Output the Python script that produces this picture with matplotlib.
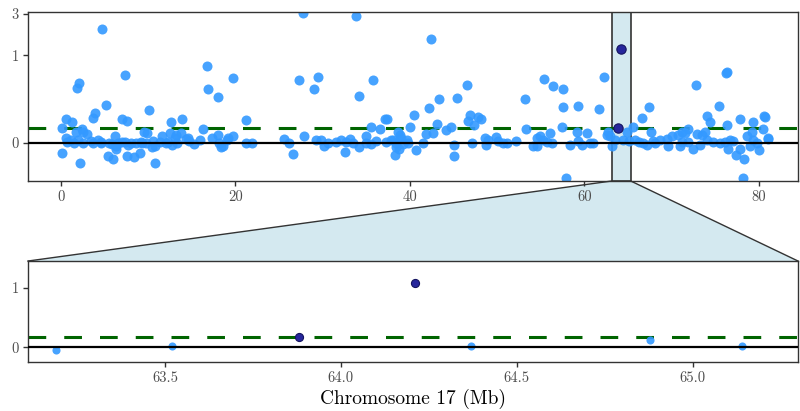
import numpy as np
import matplotlib.pyplot as plt
from matplotlib.patches import Polygon
from matplotlib.lines import Line2D

plt.rcParams['font.family'] = 'cmr10'
plt.rcParams['axes.formatter.use_mathtext'] = True
plt.rcParams['mathtext.fontset'] = 'cm'

# whole chromosome, positions in Mb and scores
pos = [4.74, 7.35, 2.07, 1.87, 5.20, 3.87, 3.67, 0.61, 1.26, 7.04, 7.61, 0.08, 2.38, 1.69, 2.99,
       6.20, 0.54, 0.72, 1.49, 2.53, 3.67, 4.28, 4.56, 5.51, 5.89, 6.28, 6.97, 8.00, 6.35, 0.08,
       5.43, 5.97, 7.61, 8.38, 2.15, 2.52, 1.18, 1.95, 3.47, 4.62, 6.53, 7.30, 7.68, 8.63, 9.20,
       9.78, 10.74, 10.54, 11.31, 12.26, 13.03, 14.56, 15.90, 18.30,
       16.76, 19.75, 16.84, 17.99, 10.10, 12.63, 13.86, 16.30, 21.21, 9.53, 9.91, 12.48, 13.17,
       13.74, 11.63, 17.30, 17.99, 19.14, 19.67, 9.33, 10.48, 12.02, 12.78, 13.35, 14.32, 14.70,
       15.27, 18.14, 18.60, 21.21, 21.89, 9.04, 10.79, 18.99,
       27.70, 33.83, 27.24, 29.43, 28.97, 35.74, 34.13, 37.08, 37.35, 35.56, 36.51, 27.90, 34.98,
       25.52, 26.18, 26.56, 29.24, 29.82, 30.20, 30.57, 31.54, 32.11, 32.69, 33.07, 33.44, 32.53,
       34.21, 34.98, 35.56, 36.13, 37.28, 38.04, 38.23, 38.43, 38.61,
       42.40, 46.50, 43.32, 45.35, 42.17, 40.45, 53.16, 46.84, 47.80, 48.19, 46.65, 47.30, 43.13,
       42.63, 41.87, 39.95, 44.74, 44.09, 38.81, 39.00, 53.35, 37.85, 38.43, 39.19, 39.76, 38.73,
       41.48, 40.72, 45.00, 45.00, 47.15, 48.56, 48.94, 48.68, 49.91, 50.09, 50.67, 51.12, 52.12,
       39.62,
       55.41, 56.37, 57.48, 62.23, 57.55, 59.24, 61.69, 67.43, 66.55, 56.03, 57.37, 60.24, 67.62,
       62.69, 62.61, 65.59, 54.50, 54.88, 55.26, 55.65, 56.22, 54.11, 54.50, 58.32, 59.28, 59.67,
       60.62, 61.00, 62.92, 65.80, 66.30, 66.74, 67.13, 68.08, 57.83, 59.10,
       76.31, 76.23, 72.76, 75.43, 74.02, 74.40, 77.77, 79.26, 80.52, 80.72, 76.31, 80.45, 71.91,
       71.15, 72.88, 73.83, 79.18, 78.61, 80.98, 76.50, 72.41, 80.00, 77.32, 78.28, 78.16, 67.89,
       68.65, 69.42, 69.99, 70.75, 71.52, 71.14, 71.90, 73.43, 74.01, 74.76, 75.53, 76.10, 76.67,
       77.05, 77.82, 78.97, 79.35, 79.74, 81.07, 73.24, 70.95, 69.60]
score = [1.55, 0.78, 0.68, 0.63, 0.43, 0.34, 0.28, 0.27, 0.24, 0.27, 0.25, 0.17, 0.16, 0.12, 0.10,
         0.07, 0.05, 0.01, 0.00, 0.00, 0.00, 0.03, 0.00, -0.01, -0.02, -0.04, 0.01, -0.01, -0.08, -0.12,
         -0.16, -0.19, -0.15, -0.17, -0.24, 0.12, 0.03, 0.03, 0.02, 0.01, -0.01, 0.01, -0.03, -0.01, 0.01,
         -0.01, -0.04, 0.02, 0.01, 0.01, 0.05, 0.05, 0.03, -0.05,
         0.88, 0.74, 0.61, 0.52, 0.37, 0.24, 0.27, 0.16, 0.26, 0.12, 0.11, 0.11, 0.09,
         0.11, 0.07, 0.05, 0.09, 0.05, 0.08, 0.00, -0.05, -0.01, -0.03, -0.01, 0.04, 0.02,
         -0.02, 0.00, -0.04, -0.01, -0.01, -0.12, -0.23, 0.03,
         3.23, 2.61, 0.72, 0.75, 0.61, 0.72, 0.54, 0.27, 0.27, 0.18, 0.16, 0.08, 0.08,
         0.04, -0.01, -0.13, 0.03, 0.03, -0.04, -0.01, 0.01, 0.03, 0.01, 0.04, -0.01, -0.11,
         -0.05, -0.01, -0.02, 0.02, 0.01, 0.03, -0.14, -0.05, 0.12,
         1.26, 0.66, 0.50, 0.51, 0.40, 0.32, 0.50, 0.32, 0.29, 0.27, 0.25, 0.20, 0.21,
         0.11, 0.10, 0.18, 0.18, 0.14, 0.09, 0.05, 0.16, 0.03, 0.00, -0.02, -0.01, -0.07,
         -0.01, -0.09, -0.03, -0.16, 0.00, 0.05, 0.03, -0.03, 0.06, 0.02, -0.01, -0.01, 0.02,
         0.03,
         0.73, 0.65, 0.61, 0.75, 0.41, 0.42, 0.38, 0.41, 0.28, 0.11, 0.18, 0.11, 0.12,
         0.12, 0.09, 0.18, 0.05, 0.07, 0.03, 0.01, 0.00, -0.04, -0.04, -0.03, 0.02, -0.03,
         0.00, -0.01, 0.07, 0.03, 0.01, -0.01, -0.03, 0.00, -0.41, 0.12,
         0.81, 0.80, 0.66, 0.42, 0.30, 0.23, 0.27, 0.23, 0.31, 0.29, 0.20, 0.16, 0.16,
         0.12, 0.10, 0.12, 0.12, 0.07, 0.05, -0.08, -0.07, -0.09, -0.14, -0.19, -0.41, 0.02,
         0.03, 0.04, 0.07, 0.09, 0.11, 0.01, 0.01, 0.09, 0.03, 0.01, -0.01, 0.01, 0.03,
         0.02, -0.07, -0.04, 0.03, -0.01, 0.04, -0.03, -0.04, -0.04]

# the zoomed region
zoom_pos = [63.19, 63.52, 64.37, 64.88, 65.14]
zoom_score = [-0.04, 0.03, 0.03, 0.12, 0.02]
hit_pos = [63.88, 64.21]
hit_score = [0.165, 1.08]
zoom_range = (63.11, 65.30)
threshold = 0.167

blue = '#3399ff'
navy = '#26269c'
band = '#d4e9f0'
dark = '#333333'


def fwd(y):
    y = np.asarray(y, dtype=float)
    return np.where(y <= 1, y, 1 + 0.55 * (1 - np.maximum(y, 1) ** -1.82))


def inv(f):
    f = np.asarray(f, dtype=float)
    base = np.clip(1 - (f - 1) / 0.55, 1e-6, None)
    return np.where(f <= 1, f, base ** (-1 / 1.82))


fig = plt.figure(figsize=(8, 4.11), dpi=100)
ax1 = fig.add_axes([0.035, 0.5596, 0.9625, 0.4112])
ax2 = fig.add_axes([0.035, 0.1192, 0.9625, 0.2457])

# top: whole chromosome
ax1.set_yscale('function', functions=(fwd, inv))
ax1.axvspan(zoom_range[0], zoom_range[1], facecolor=band, edgecolor=dark, lw=1.2, zorder=0)
ax1.axhline(threshold, color='darkgreen', lw=2.2, dashes=(5.8, 5.9), zorder=1)
ax1.scatter(pos + zoom_pos, score + zoom_score, s=52, color=blue, alpha=0.9, lw=0, zorder=2)
ax1.scatter(hit_pos, hit_score, s=45, color=navy, edgecolor='#141460', lw=0.8, zorder=3)
ax1.axhline(0, color='black', lw=1.6, zorder=4)
ax1.set_xlim(-3.78, 84.47)
ax1.set_ylim(-0.4425, 3.73)
ax1.set_xticks([0, 20, 40, 60, 80])
ax1.set_xticklabels(['0', '20', '40', '60', '80'])
ax1.set_yticks([0, 1, 3])
ax1.set_yticklabels(['0', '1', '3'])

# bottom: zoomed region
ax2.axhline(threshold, color='darkgreen', lw=2.2, dashes=(5.8, 5.9), zorder=1)
ax2.scatter(zoom_pos, zoom_score, s=34, color=blue, alpha=0.9, lw=0, zorder=2)
ax2.scatter(hit_pos, hit_score, s=34, color=navy, edgecolor='#141460', lw=0.8, zorder=3)
ax2.axhline(0, color='black', lw=1.6, zorder=4)
ax2.set_xlim(*zoom_range)
ax2.set_ylim(-0.246, 1.446)
ax2.set_xticks([63.5, 64.0, 64.5, 65.0])
ax2.set_xticklabels(['63.5', '64.0', '64.5', '65.0'])
ax2.set_yticks([0, 1])
ax2.set_yticklabels(['0', '1'])
ax2.set_xlabel('Chromosome 17 (Mb)', fontsize=14, color='black', labelpad=3)

for ax in (ax1, ax2):
    for sp in ax.spines.values():
        sp.set_color(dark)
        sp.set_linewidth(1.0)
    ax.tick_params(color=dark, labelcolor='#4d4d4d', length=3.5, width=1, labelsize=10.5, pad=3)

# funnel joining the band to the lower panel
to_fig = fig.transFigure.inverted()
p_top = ax1.get_xaxis_transform().transform([(zoom_range[0], 0), (zoom_range[1], 0)])
p_bot = ax2.transAxes.transform([(1, 1), (0, 1)])
verts = to_fig.transform(np.vstack([p_top, p_bot]))
fig.add_artist(Polygon(verts, closed=True, facecolor=band, edgecolor='none',
                       transform=fig.transFigure, zorder=0))
fig.add_artist(Line2D([verts[0][0], verts[3][0]], [verts[0][1], verts[3][1]],
                      color=dark, lw=1.0, transform=fig.transFigure))
fig.add_artist(Line2D([verts[1][0], verts[2][0]], [verts[1][1], verts[2][1]],
                      color=dark, lw=1.0, transform=fig.transFigure))

fig.savefig('out.png', dpi=100)
